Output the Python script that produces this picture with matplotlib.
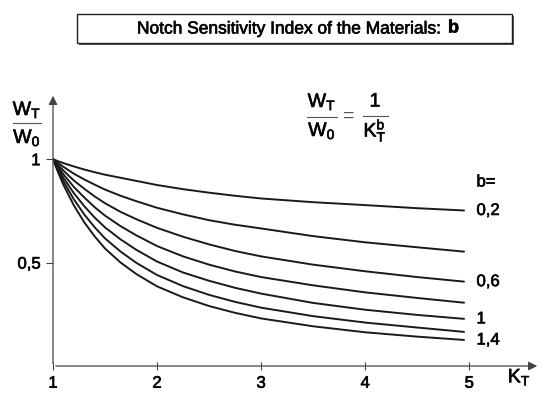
import matplotlib
matplotlib.use('Agg')
import matplotlib.pyplot as plt
import matplotlib.patheffects as pe
from matplotlib.patches import Rectangle
from matplotlib.lines import Line2D

plt.rcParams['font.family'] = ['Liberation Sans', 'DejaVu Sans']
plt.rcParams['mathtext.fontset'] = 'custom'
plt.rcParams['mathtext.rm'] = 'Liberation Sans'
plt.rcParams['mathtext.it'] = 'Liberation Sans'
plt.rcParams['mathtext.bf'] = 'Liberation Sans:bold'

# values
kt = [1, 1.05, 1.1, 1.2, 1.3, 1.4, 1.5, 1.65, 1.8, 2, 2.25, 2.5, 2.75, 3, 3.5, 4, 4.5, 4.95]
b_02 = [1, 0.99, 0.981, 0.965, 0.95, 0.937, 0.925, 0.91, 0.895, 0.875, 0.855, 0.838,
        0.823, 0.81, 0.792, 0.778, 0.763, 0.752]
b_04 = [1, 0.981, 0.963, 0.93, 0.902, 0.877, 0.853, 0.823, 0.797, 0.765, 0.733, 0.705,
        0.683, 0.665, 0.628, 0.598, 0.574, 0.553]
b_06 = [1, 0.971, 0.945, 0.897, 0.857, 0.82, 0.787, 0.745, 0.71, 0.668, 0.625, 0.588,
        0.556, 0.53, 0.49, 0.458, 0.43, 0.408]
b_08 = [1, 0.962, 0.927, 0.866, 0.815, 0.768, 0.727, 0.676, 0.632, 0.58, 0.53, 0.49,
        0.457, 0.43, 0.39, 0.356, 0.329, 0.306]
b_10 = [1, 0.953, 0.91, 0.836, 0.773, 0.718, 0.67, 0.612, 0.562, 0.505, 0.452, 0.412,
        0.378, 0.35, 0.305, 0.272, 0.247, 0.228]
b_12 = [1, 0.944, 0.893, 0.806, 0.733, 0.671, 0.617, 0.553, 0.499, 0.44, 0.386, 0.344,
        0.31, 0.282, 0.241, 0.21, 0.186, 0.165]
b_14 = [1, 0.935, 0.876, 0.777, 0.695, 0.627, 0.568, 0.5, 0.445, 0.385, 0.332, 0.29,
        0.257, 0.23, 0.192, 0.163, 0.142, 0.126]
curves = [b_02, b_04, b_06, b_08, b_10, b_12, b_14]

# curve labels (only some curves are labelled)
label_text = ['0,2', '0,6', '1', '1,4']
label_y = [0.752, 0.408, 0.228, 0.126]
x_ticks = [1, 2, 3, 4, 5]
x_ticklabels = ['1', '2', '3', '4', '5']
y_ticks = [0.5, 1]
y_ticklabels = ['0,5', '1']

ink = [pe.withStroke(linewidth=0.5, foreground='#1a1a1a')]
W, H = 542, 394


def px(x, y):
    # pixel position (from top-left) to figure fraction
    return x / W, 1 - y / H


fig = plt.figure(figsize=(5.42, 3.94), dpi=100)
ax = fig.add_axes([53 / W, 28 / H, 487 / W, 273 / H])
ax.set_xlim(1, 5.68)
ax.set_ylim(0, 1.32)
for s in ax.spines.values():
    s.set_visible(False)

for ys in curves:
    ax.plot(kt, ys, color='#1a1a1a', lw=1.4, solid_capstyle='round')

axis_col = '#444444'
ax.annotate('', xy=(1.0, 0), xytext=(0, 0), xycoords='axes fraction',
            arrowprops=dict(arrowstyle='-|>', lw=0.9, color=axis_col, mutation_scale=13))
ax.annotate('', xy=(0, 1.0), xytext=(0, 0), xycoords='axes fraction',
            arrowprops=dict(arrowstyle='-|>', lw=0.9, color=axis_col, mutation_scale=13))

ax.set_xticks(x_ticks)
ax.set_xticklabels(x_ticklabels, fontsize=12)
ax.set_yticks(y_ticks)
ax.set_yticklabels(y_ticklabels, fontsize=12)
ax.tick_params(axis='x', direction='inout', length=6, width=0.8, color=axis_col, pad=4)
ax.tick_params(axis='y', direction='out', length=5, width=0.8, color=axis_col, pad=4)
for t in ax.get_xticklabels() + ax.get_yticklabels():
    t.set_path_effects(ink)

for t, y in zip(label_text, label_y):
    ax.text(5.07, y, t, fontsize=12, va='center', ha='left', path_effects=ink)
ax.text(5.07, 0.89, 'b=', fontsize=12, va='center', ha='left', path_effects=ink)
ax.text(5.37, -0.055, r'$\mathrm{K_T}$', fontsize=14, va='center', ha='left', path_effects=ink)


def fraction(xc, y_num, y_line, y_den, num, den, x0, x1, size=14):
    fig.text(*px(xc, y_num), num, fontsize=size, ha='center', va='center', path_effects=ink)
    fig.text(*px(xc, y_den), den, fontsize=size, ha='center', va='center', path_effects=ink)
    fig.add_artist(Line2D([x0 / W, x1 / W], [1 - y_line / H] * 2, color='#555555',
                          lw=0.8, transform=fig.transFigure))


# y-axis label
fraction(27, 110, 123, 138, r'$\mathrm{W_T}$', r'$\mathrm{W_0}$', 13, 41)
# formula
fraction(322, 102, 117, 131, r'$\mathrm{W_T}$', r'$\mathrm{W_0}$', 307, 337)
fig.text(*px(349, 116), '=', fontsize=14, ha='center', va='center', color='#555555')
fraction(375, 102, 116, 131, '1', r'$\mathrm{K_T^b}$', 363, 388)

# title box with a small drop shadow
bx, by = px(77, 43)
bw, bh = 435 / W, 29 / H
fig.patches.append(Rectangle((bx + 2 / W, by - 2 / H), bw, bh, transform=fig.transFigure,
                             facecolor='#555555', edgecolor='none'))
fig.patches.append(Rectangle((bx, by), bw, bh, transform=fig.transFigure,
                             facecolor='white', edgecolor='#222222', lw=1))
fig.text(*px(137, 29), 'Notch Sensitivity Index of the Materials:',
         fontsize=12.5, ha='left', va='center', path_effects=ink)
fig.text(*px(448, 28), 'b', fontsize=13, fontweight='bold',
         ha='left', va='center', path_effects=ink)

fig.savefig('out.png', dpi=100)
